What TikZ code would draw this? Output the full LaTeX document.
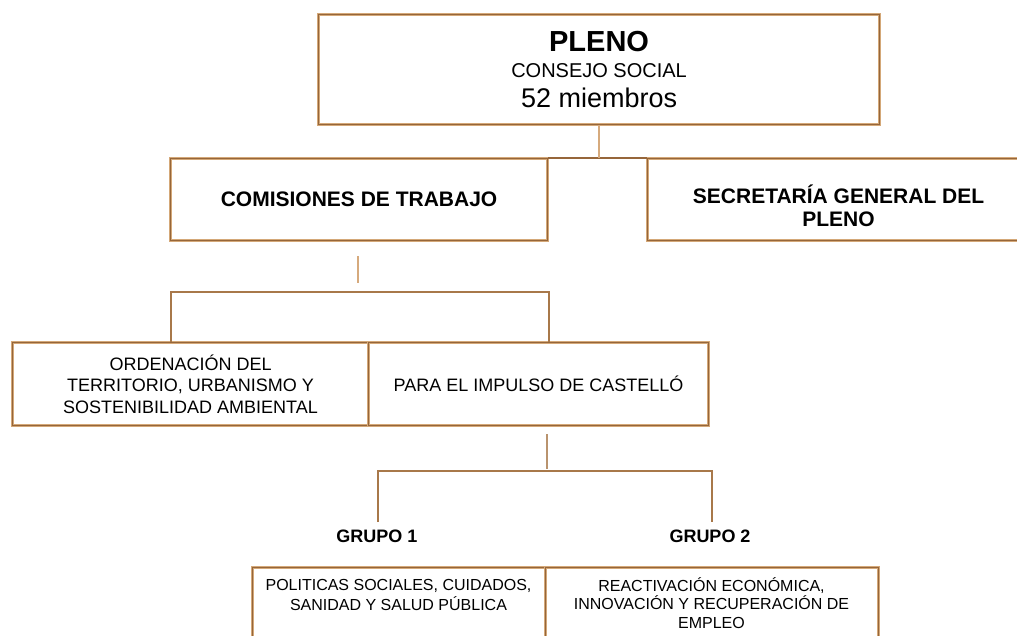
\documentclass[tikz,border=0pt]{standalone}
\usepackage{fontspec}
\setmainfont{Liberation Sans}
\definecolor{bdark}{RGB}{150,102,58}
\definecolor{blight}{RGB}{212,168,120}
\definecolor{conn}{RGB}{168,120,74}
\definecolor{connlight}{RGB}{214,170,125}
\tikzset{
  orgbox/.style={draw=bdark, line width=1.1pt, preaction={draw=blight, line width=2.6pt},
    rectangle, inner sep=0pt, anchor=north west, align=center},
  edgeline/.style={draw=bdark, line width=1.1pt, preaction={draw=blight, line width=2.6pt}},
  link/.style={draw=conn, line width=2pt},
  lightlink/.style={draw=connlight, line width=2.2pt},
  lbl/.style={inner sep=0pt, align=center},
}
\begin{document}
\begin{tikzpicture}[x=1pt,y=-1pt]
\useasboundingbox (0,0) rectangle (1017,635);
\clip (0,0) rectangle (1017,635);

% Top box
\node[orgbox, minimum width=561pt, minimum height=110pt, font=\fontsize{27}{28}\selectfont] (pleno) at (318,14)
  {\fontsize{29}{28}\selectfont\bfseries PLENO\\[-2pt]
   \fontsize{20}{28}\selectfont CONSEJO SOCIAL\\[2.5pt]
   \fontsize{27}{28}\selectfont 52 miembros};

% Second row
\node[orgbox, minimum width=377pt, minimum height=82pt, font=\fontsize{21}{25}\selectfont\bfseries] (comisiones) at (170,158)
  {COMISIONES DE TRABAJO};
\node[orgbox, minimum width=382pt, minimum height=82pt, font=\fontsize{21}{23.5}\selectfont\bfseries] (secretaria) at (647,158)
  {\rule{0pt}{31pt}SECRETARÍA GENERAL DEL\\ PLENO};
\draw[edgeline] (comisiones.north east) -- (secretaria.north west);
\draw[lightlink] (pleno.south) -- (pleno.south |- comisiones.north);

% stub below comisiones
\coordinate (s1a) at (358,256);
\coordinate (s1b) at (358,283);
\draw[lightlink, line width=2.6pt] (s1a) -- (s1b);

% Third row
\node[orgbox, minimum width=356pt, minimum height=83pt, font=\fontsize{18}{21.5}\selectfont] (ord) at (12,342)
  {ORDENACIÓN DEL\\ TERRITORIO, URBANISMO Y\\ SOSTENIBILIDAD AMBIENTAL};
\node[orgbox, minimum width=340pt, minimum height=83pt, font=\fontsize{18}{21.5}\selectfont] (para) at (368,342)
  {PARA EL IMPULSO DE CASTELLÓ};

% bracket above third row
\coordinate (b1l) at (171,292);
\coordinate (b1r) at (549,292);
\draw[link] (b1l |- ord.north) -- (b1l) -- (b1r) -- (b1r |- para.north);

% stub below para
\coordinate (s2a) at (547,434);
\coordinate (s2b) at (547,469);
\draw[lightlink, draw=conn!80!white, line width=2.6pt] (s2a) -- (s2b);

% Groups
\node[lbl, font=\fontsize{18}{20}\selectfont\bfseries] (g1) at (377,536) {GRUPO 1};
\node[lbl, font=\fontsize{18}{20}\selectfont\bfseries] (g2) at (710,536) {GRUPO 2};
\coordinate (b2l) at (378,471);
\coordinate (b2r) at (712,471);
\draw[link] (378,522) -- (b2l) -- (b2r) -- (712,522);

% Bottom boxes
\node[orgbox, minimum width=293pt, minimum height=110pt] (pol) at (252,567) {};
\node[orgbox, minimum width=333pt, minimum height=110pt] (rea) at (545,567) {};
\node[lbl, font=\fontsize{16}{19.5}\selectfont] (poltxt) at (398.5,595)
  {POLITICAS SOCIALES, CUIDADOS,\\ SANIDAD Y SALUD PÚBLICA};
\node[lbl, font=\fontsize{16}{18.5}\selectfont] (reatxt) at (711.5,603)
  {REACTIVACIÓN ECONÓMICA,\\ INNOVACIÓN Y RECUPERACIÓN DE\\ EMPLEO};
\end{tikzpicture}
\end{document}
